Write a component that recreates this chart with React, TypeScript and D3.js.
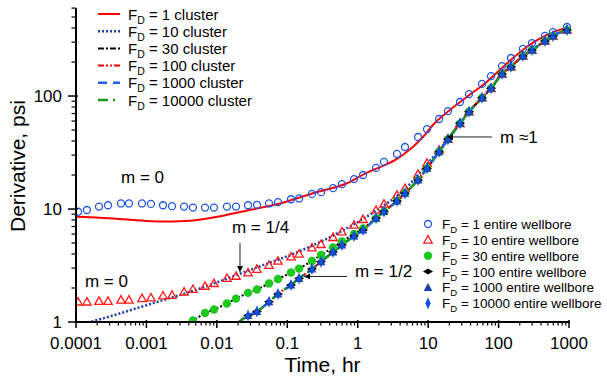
import React from "react";
import * as d3 from "d3";

// ---------- data ----------
const xTicks = [1e-4, 1e-3, 1e-2, 1e-1, 1, 10, 100, 1000];
const xTickLabels = ["0.0001", "0.001", "0.01", "0.1", "1", "10", "100", "1000"];
const yTicks = [1, 10, 100];
const yTickLabels = ["1", "10", "100"];

// marker time grid (hr)
const tGrid = [1.07e-4, 1.43e-4, 2.12e-4, 2.85e-4, 4.35e-4, 5.65e-4, 8.65e-4, 1.16e-3, 1.72e-3, 2.31e-3,
  3.42e-3, 4.58e-3, 6.79e-3, 9.11e-3, 0.0139, 0.0187, 0.0277, 0.0371, 0.055, 0.0738,
  0.113, 0.147, 0.224, 0.301, 0.446, 0.598, 0.886, 1.19, 1.82, 2.36,
  3.61, 4.69, 7.18, 9.63, 14.3, 19.1, 28.3, 38.0, 58.2, 78.1,
  112, 150, 222, 298, 456, 593, 937];

// FD = 1 entire wellbore (open circles), all grid points
const wb1 = [9.46, 9.8, 10.5, 10.8, 11.2, 11.2, 11.2, 11.1, 10.8, 10.6,
  10.5, 10.3, 10.3, 10.3, 10.5, 10.5, 10.8, 10.9, 11.2, 11.5,
  12.2, 12.4, 13.6, 14.1, 15.3, 16.6, 18.4, 20.0, 23.1, 26.1,
  30.7, 35.4, 43.4, 51.0, 62.6, 73.6, 88.5, 104, 128, 150,
  184, 217, 261, 294, 340, 368, 408];
// FD = 10 entire wellbore (open triangles), all grid points
const wb10 = [1.51, 1.51, 1.53, 1.53, 1.57, 1.57, 1.62, 1.64, 1.71, 1.73,
  1.85, 1.95, 2.08, 2.20, 2.44, 2.55, 2.73, 2.94, 3.19, 3.47,
  3.78, 4.00, 4.55, 4.87, 5.62, 6.30, 7.22, 8.11, 9.80, 11.1,
  13.3, 15.3, 20.4, 25.5, 33.3, 41.6, 57.3, 72.6, 96.6, 117,
  157, 182, 226, 255, 307, 340, 384];
// FD = 30 entire wellbore (green dots), grid from index 11
const wb30 = [1.03, 1.20, 1.29, 1.46, 1.61, 1.81, 1.94, 2.19, 2.40, 2.74,
  2.97, 3.47, 3.92, 4.56, 5.16, 6.01, 6.72, 8.27, 9.49, 11.8,
  13.8, 18.1, 22.9, 32.1, 41.4, 57.3, 72.6, 96.6, 117, 157,
  182, 226, 255, 307, 340, 384];
// FD = 100 / 1000 / 10000 entire wellbore, grid from index 16
const wb100 = [1.14, 1.24, 1.51, 1.77, 2.13, 2.43, 2.94, 3.42, 4.16, 4.80,
  5.77, 6.52, 8.27, 9.49, 11.8, 13.8, 18.1, 22.9, 32.1, 41.4,
  57.3, 72.6, 96.6, 117, 157, 182, 226, 255, 307, 340, 384];
const wb1000 = [1.14, 1.24, 1.51, 1.77, 2.13, 2.43, 2.94, 3.42, 4.16, 4.80,
  5.77, 6.52, 8.27, 9.49, 11.8, 13.8, 18.1, 22.9, 32.1, 41.4,
  57.3, 72.6, 96.6, 117, 157, 182, 226, 255, 307, 340, 384];
const wb10000 = [1.14, 1.24, 1.51, 1.77, 2.13, 2.43, 2.94, 3.42, 4.16, 4.80,
  5.77, 6.52, 8.27, 9.49, 11.8, 13.8, 18.1, 22.9, 32.1, 41.4,
  57.3, 72.6, 96.6, 117, 157, 182, 226, 255, 307, 340, 384];

// cluster curves
const c1T = [1e-4, 2.19e-4, 6.45e-4, 1.56e-3, 3.53e-3, 8.8e-3, 0.0268, 0.0788, 0.232, 0.705,
  1.36, 2.07, 3.38, 6.1, 8.45, 11.7, 20.4, 35.6, 68.5, 132, 253, 486, 935];
const c1V = [8.55, 8.38, 8.0, 7.75, 7.83, 8.41, 9.7, 11.2, 13.8, 16.9,
  21.0, 23.5, 27.1, 35.6, 43.4, 55.4, 75.2, 98.6, 134, 195, 273, 347, 405];
const c10T = [1e-4, 1.58e-4, 1.125e-3, 5.76e-3, 0.0296, 0.152, 0.56, 1.88, 4.69, 9.63, 19.1,
  28.3, 38.0, 58.2, 78.1, 112, 150, 222, 298, 456, 593, 937];
const c10V = [0.93, 1.0, 1.44, 1.98, 2.89, 4.25, 6.26, 9.8, 15.0, 25.0, 41.4,
  57.3, 72.6, 96.6, 117, 157, 182, 226, 255, 307, 340, 384];
const c30T = [3.0e-3, 4.58e-3, 6.79e-3, 9.11e-3, 0.0139, 0.0187, 0.0277, 0.0371, 0.055, 0.0738,
  0.113, 0.147, 0.224, 0.301, 0.446, 0.598, 0.886, 1.19, 1.82, 2.36,
  3.61, 4.69, 7.18, 9.63, 14.3, 19.1, 28.3, 38.0, 58.2, 78.1,
  112, 150, 222, 298, 456, 593, 937];
const c30V = [0.97, 1.03, 1.20, 1.29, 1.46, 1.61, 1.81, 1.94, 2.19, 2.40,
  2.74, 2.97, 3.47, 3.92, 4.56, 5.16, 6.01, 6.72, 8.27, 9.49,
  11.8, 13.8, 18.1, 22.9, 32.1, 41.4, 57.3, 72.6, 96.6, 117,
  157, 182, 226, 255, 307, 340, 384];
const cHighT = [0.019, 0.0277, 0.0371, 0.055, 0.0738, 0.113, 0.147, 0.224, 0.301, 0.446, 0.598,
  0.886, 1.19, 1.82, 2.36, 3.61, 4.69, 7.18, 9.63, 14.3, 19.1,
  28.3, 38.0, 58.2, 78.1, 112, 150, 222, 298, 456, 593, 937];
const c100V = [0.96, 1.14, 1.24, 1.51, 1.77, 2.13, 2.43, 2.94, 3.42, 4.16, 4.80,
  5.77, 6.52, 8.27, 9.49, 11.8, 13.8, 18.1, 22.9, 32.1, 41.4,
  57.3, 72.6, 96.6, 117, 157, 182, 226, 255, 307, 340, 384];
const c1000V = c100V.slice();
const c10000V = c100V.slice();

const lineLegend = ["1", "10", "30", "100", "1000", "10000"];
const markerLegend = ["1", "10", "30", "100", "1000", "10000"];

// annotations: [text, t, v]
const annoText = ["m = 0", "m = 0", "m = 1/4", "m = 1/2", "m \u22481"];
const annoT = [4.36e-4, 1.34e-4, 0.0164, 0.915, 105];
const annoV = [17.0, 2.04, 6.13, 2.50, 38.4];
// arrows: tail (t,v) -> tip (t,v)
const arrowTailT = [0.0213, 0.705, 80.6];
const arrowTailV = [5.0, 2.53, 43.4];
const arrowTipT = [0.0213, 0.173, 18.5];
const arrowTipV = [2.77, 2.53, 43.4];

// ---------- styles ----------
const FONT = "'Liberation Sans', Arial, sans-serif";
const lineStyles = [
  { color: "#ff0000", dash: "", w: 2 },
  { color: "#1d3fa8", dash: "2,2", w: 2.5 },
  { color: "#000000", dash: "6,2,2,2", w: 2 },
  { color: "#ff0000", dash: "6,2,2,2,2,2", w: 2 },
  { color: "#2060f0", dash: "9,6", w: 2.5 },
  { color: "#179a17", dash: "10,5,2,5", w: 2.5 },
];

function Marker({ kind, cx, cy }: { kind: number; cx: number; cy: number }) {
  const tr = `translate(${cx},${cy})`;
  switch (kind) {
    case 0:
      return <circle cx={cx} cy={cy} r={3.5} fill="none" stroke="#1f55e6" strokeWidth={1.3} />;
    case 1:
      return <path transform={tr} d="M0,-4.2L4.2,3.2L-4.2,3.2Z" fill="none" stroke="#ff1a1a" strokeWidth={1.3} />;
    case 2:
      return <circle cx={cx} cy={cy} r={4.2} fill="#1ec81e" />;
    case 3:
      return <path transform={tr} d="M-5,0L0,-3L5,0L0,3Z" fill="#000" />;
    case 4:
      return <path transform={tr} d="M0,-4.5L4.3,3.5L-4.3,3.5Z" fill="#1b3da5" />;
    default:
      return <path transform={tr} d="M0,-6L2.6,0L0,6L-2.6,0Z" fill="#1450d8" />;
  }
}

export default function App() {
  const W = 607, H = 381;
  const x = d3.scaleLog().domain([1e-4, 1000]).range([76, 569]);
  const y = d3.scaleLog().domain([1, 600]).range([322, 8.1]);

  const line = d3.line<[number, number]>()
    .x((d) => x(d[0]))
    .y((d) => y(d[1]))
    .curve(d3.curveMonotoneX);

  const zip = (ts: number[], vs: number[]) => ts.map((t, i) => [t, vs[i]] as [number, number]);

  const curves = [
    zip(c1T, c1V),
    zip(c10T, c10V),
    zip(c30T, c30V),
    zip(cHighT, c100V),
    zip(cHighT, c1000V),
    zip(cHighT, c10000V),
  ];

  const markerSets: { kind: number; pts: [number, number][] }[] = [
    { kind: 0, pts: zip(tGrid, wb1) },
    { kind: 1, pts: zip(tGrid, wb10) },
    { kind: 2, pts: zip(tGrid.slice(11), wb30) },
    { kind: 3, pts: zip(tGrid.slice(16), wb100) },
    { kind: 4, pts: zip(tGrid.slice(16), wb1000) },
    { kind: 5, pts: zip(tGrid.slice(16), wb10000) },
  ];

  const xMinor: number[] = [];
  for (let e = -4; e < 3; e++) for (let k = 2; k <= 9; k++) xMinor.push(k * Math.pow(10, e));
  const yMinor: number[] = [];
  for (let e = 0; e < 3; e++) for (let k = 2; k <= 9; k++) {
    const v = k * Math.pow(10, e);
    if (v <= 600) yMinor.push(v);
  }

  const [x0, x1] = x.range();
  const [y0, y1] = y.range();

  return (
    <svg width={W} height={H} style={{ position: "absolute", left: 0, top: 0, background: "#fff" }} fontFamily={FONT}>
      <defs>
        <clipPath id="plot">
          <rect x={x0} y={y1 - 6} width={x1 - x0 + 8} height={y0 - y1 + 6} />
        </clipPath>
        <marker id="arr" viewBox="0 0 10 10" refX={10} refY={5} markerWidth={8} markerHeight={6} orient="auto" markerUnits="userSpaceOnUse">
          <path d="M0,0L10,5L0,10Z" fill="#000" />
        </marker>
      </defs>

      {/* curves */}
      <g clipPath="url(#plot)">
        {curves.map((c, i) => (
          <path key={i} d={line(c) || ""} fill="none" stroke={lineStyles[i].color}
            strokeWidth={lineStyles[i].w} strokeDasharray={lineStyles[i].dash || undefined} />
        ))}
        {markerSets.map((s, i) => (
          <g key={i}>
            {s.pts.map((p, j) => (
              <Marker key={j} kind={s.kind} cx={x(p[0])} cy={y(p[1])} />
            ))}
          </g>
        ))}
      </g>

      {/* axes */}
      <line x1={x0 - 1} x2={x1 + 1} y1={y0} y2={y0} stroke="#000" strokeWidth={2} />
      <line x1={x0} x2={x0} y1={y1} y2={y0 + 1} stroke="#000" strokeWidth={2} />
      {xTicks.map((t, i) => (
        <g key={"xt" + i}>
          <line x1={x(t)} x2={x(t)} y1={y0 - 2} y2={y0 + 6} stroke="#000" strokeWidth={1.5} />
          <text x={x(t)} y={349} fontSize={17} textAnchor="middle">{xTickLabels[i]}</text>
        </g>
      ))}
      {xMinor.map((t, i) => (
        <line key={"xm" + i} x1={x(t)} x2={x(t)} y1={y0} y2={y0 + 3.5} stroke="#000" strokeWidth={1.2} />
      ))}
      {yTicks.map((v, i) => (
        <g key={"yt" + i}>
          <line x1={x0 - 8} x2={x0 + 2} y1={y(v)} y2={y(v)} stroke="#000" strokeWidth={1.5} />
          <text x={62} y={y(v) + 6} fontSize={17} textAnchor="end">{yTickLabels[i]}</text>
        </g>
      ))}
      {yMinor.map((v, i) => (
        <line key={"ym" + i} x1={x0 - 4.5} x2={x0} y1={y(v)} y2={y(v)} stroke="#000" strokeWidth={1.2} />
      ))}

      <text x={(x0 + x1) / 2} y={372} fontSize={21} textAnchor="middle">Time, hr</text>
      <text transform={`translate(25,${(y0 + y1) / 2 + 1}) rotate(-90)`} fontSize={21} textAnchor="middle">Derivative, psi</text>

      {/* annotations */}
      {annoText.map((s, i) => (
        <text key={"an" + i} x={x(annoT[i])} y={y(annoV[i])} fontSize={17}>{s}</text>
      ))}
      {arrowTailT.map((t, i) => (
        <line key={"ar" + i} x1={x(t)} y1={y(arrowTailV[i])} x2={x(arrowTipT[i])} y2={y(arrowTipV[i])}
          stroke="#222" strokeWidth={1} markerEnd="url(#arr)" />
      ))}

      {/* line legend */}
      {lineLegend.map((s, i) => {
        const ly = 14 + i * 17.2;
        const st = lineStyles[i];
        return (
          <g key={"ll" + i}>
            <line x1={98} x2={120} y1={ly} y2={ly} stroke={st.color} strokeWidth={st.w}
              strokeDasharray={st.dash || undefined} />
            <text x={128} y={ly + 5.5} fontSize={15}>
              F<tspan dy={4} fontSize={10.5}>D</tspan><tspan dy={-4}>{` = ${s} cluster`}</tspan>
            </text>
          </g>
        );
      })}

      {/* marker legend */}
      {markerLegend.map((s, i) => {
        const ly = 224 + i * 15.85;
        return (
          <g key={"ml" + i}>
            <Marker kind={i} cx={428} cy={ly} />
            <text x={442} y={ly + 5} fontSize={13.5}>
              F<tspan dy={4} fontSize={9.5}>D</tspan><tspan dy={-4}>{` = ${s} entire wellbore`}</tspan>
            </text>
          </g>
        );
      })}
    </svg>
  );
}
